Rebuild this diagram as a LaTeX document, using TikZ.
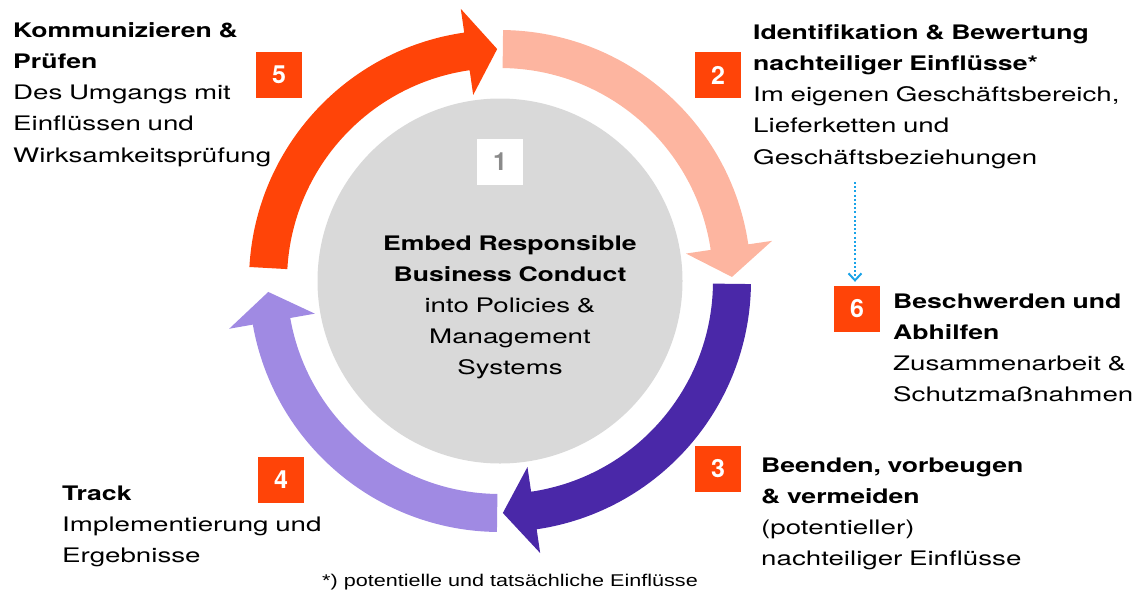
\documentclass[tikz,border=0pt]{standalone}
\usepackage{fontspec}
\setmainfont{TeX Gyre Heros}[FakeStretch=1.385, WordSpace=0.75, BoldFeatures={FakeStretch=1.33}]
\newfontfamily\numfont{TeX Gyre Heros}
\newfontfamily\footfont{Liberation Sans}[FakeStretch=1.27]
\usetikzlibrary{arrows.meta,calc}
\definecolor{orng}{HTML}{FF4408}
\definecolor{pinkc}{HTML}{FDB5A0}
\definecolor{dpurp}{HTML}{4A28A8}
\definecolor{lpurp}{HTML}{A08AE3}
\definecolor{grayc}{HTML}{D9D9D9}
\definecolor{bluec}{HTML}{1AA3E8}
\definecolor{numgray}{HTML}{8A8A8A}
\newcommand\ringarrow[4]{%
  \fill[#1] ($(C)+(#2:251)$) arc[start angle=#2, end angle=#3, radius=251]
    -- ($(C)+(#3:275)$) -- ($(C)+(#4:232)$) -- ($(C)+(#3:188)$)
    -- ($(C)+(#3:213)$) arc[start angle=#3, end angle=#2, radius=213] -- cycle;}
\tikzset{
  badge/.style={fill=orng, text=white, minimum size=46pt, inner sep=0pt,
    font=\numfont\bfseries\fontsize{25}{25}\selectfont},
  badgeone/.style={fill=white, text=numgray, minimum size=46pt, inner sep=0pt,
    font=\numfont\bfseries\fontsize{25}{25}\selectfont},
  label/.style={anchor=base west, inner sep=0pt, align=left, text width=380pt,
    font=\fontsize{20}{31.3}\selectfont},
}
\begin{document}
\begin{tikzpicture}[x=1pt,y=1pt]
\useasboundingbox (0,0) rectangle (1134,-603);
\node[circle, fill=grayc, minimum size=365pt, inner sep=0pt] (core) at (500,-281) {};
\coordinate (C) at (500,-281);
% ring arrows
\ringarrow{pinkc}{89.3}{8.4}{1}
\ringarrow{dpurp}{-0.7}{-81.6}{-89.3}
\ringarrow{lpurp}{-90.7}{-170}{-177.3}
\ringarrow{orng}{176.8}{98.2}{90.7}
% centre text
\node[anchor=base, inner sep=0pt, align=center, text width=320pt,
  font=\fontsize{20}{31}\selectfont] (ctext) at (510,-250)
  {\textbf{Embed Responsible}\\\textbf{Business Conduct}\\into Policies \&\\Management\\Systems};
% badges
\node[badgeone] (b1) at (500,-162) {1};
\node[badge] (b2) at (718,-75) {2};
\node[badge] (b3) at (718,-469) {3};
\node[badge] (b4) at (281,-480) {4};
\node[badge] (b5) at (279,-75) {5};
\node[badge] (b6) at (857,-309) {6};
% labels
\node[label] (t5) at (13,-37)
  {\textbf{Kommunizieren \&}\\\textbf{Prüfen}\\Des Umgangs mit\\Einflüssen und\\Wirksamkeitsprüfung};
\node[label] (t2) at (753,-39)
  {\textbf{Identifikation \& Bewertung}\\\textbf{nachteiliger Einflüsse*}\\Im eigenen Geschäftsbereich,\\Lieferketten und\\Geschäftsbeziehungen};
\node[label] (t6) at (893,-308)
  {\textbf{Beschwerden und}\\\textbf{Abhilfen}\\Zusammenarbeit \&\\Schutzmaßnahmen};
\node[label] (t3) at (761,-472)
  {\textbf{Beenden, vorbeugen}\\\textbf{\& vermeiden}\\(potentieller)\\nachteiliger Einflüsse};
\node[label] (t4) at (62,-500)
  {\textbf{Track}\\Implementierung und\\Ergebnisse};
\node[anchor=base west, inner sep=0pt, font=\footfont\fontsize{17}{20}\selectfont] (foot) at (322,-586)
  {*) potentielle und tatsächliche Einflüsse};
% dotted connector
\coordinate (dtop) at (855,-182);
\draw[bluec, line width=2pt, dash pattern=on 2pt off 2.2pt, shorten >=4pt,
  -{Straight Barb[length=7pt,width=13pt,line width=2pt]}]
  (dtop) -- (dtop |- b6.north);
\end{tikzpicture}
\end{document}
